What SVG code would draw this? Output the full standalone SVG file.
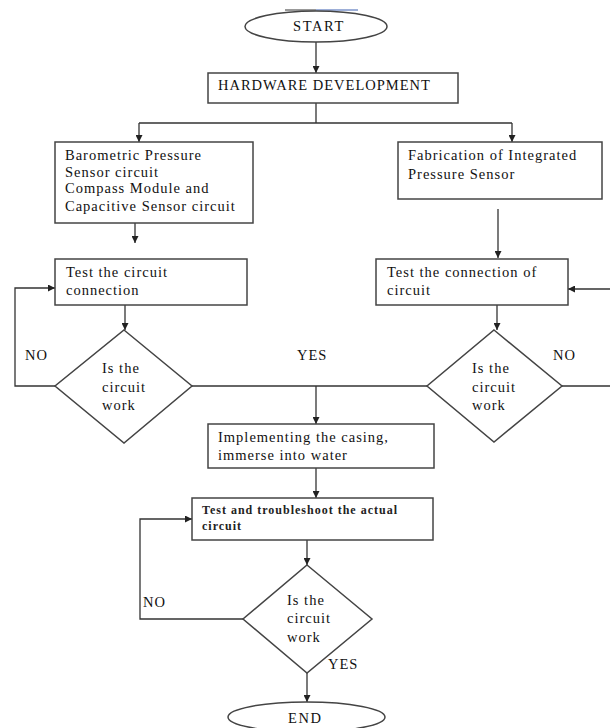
<svg xmlns="http://www.w3.org/2000/svg" width="610" height="728" viewBox="0 0 610 728">
<style>
.box{fill:#fff;stroke:#444;stroke-width:1.5}
.ln{fill:none;stroke:#333;stroke-width:1.3}
text{font-family:"Liberation Serif","Times New Roman",serif;font-size:14.5px;letter-spacing:1px;fill:#111}
.sm{font-size:12px;font-weight:bold;letter-spacing:1px;fill:#222}
</style>
<defs>
<marker id="ah" viewBox="0 0 10 10" refX="10" refY="5" markerWidth="7" markerHeight="7" markerUnits="userSpaceOnUse" orient="auto">
<path d="M0,0 L10,5 L0,10 z" fill="#222"/>
</marker>
</defs>
<line x1="285" y1="10" x2="316" y2="10" stroke="#333" stroke-width="1"/>
<line x1="316" y1="10" x2="358" y2="10" stroke="#3a5fb0" stroke-width="1"/>
<g id="connectors">
<path class="ln" d="M316,42 V73" marker-end="url(#ah)"/>
<path class="ln" d="M316,103 V123 M139,123 H512"/>
<path class="ln" d="M139,123 V142" marker-end="url(#ah)"/>
<path class="ln" d="M512,123 V142" marker-end="url(#ah)"/>
<path class="ln" d="M135,223 V243" marker-end="url(#ah)"/>
<path class="ln" d="M498,209 V258" marker-end="url(#ah)"/>
<path class="ln" d="M125,305 V330" marker-end="url(#ah)"/>
<path class="ln" d="M497,305 V330" marker-end="url(#ah)"/>
<path class="ln" d="M55,386 H15 V288 H55" marker-end="url(#ah)"/>
<path class="ln" d="M562,386 H613 V289 H568" marker-end="url(#ah)"/>
<path class="ln" d="M192,386 H427"/>
<path class="ln" d="M316,386 V424" marker-end="url(#ah)"/>
<path class="ln" d="M316,468 V498" marker-end="url(#ah)"/>
<path class="ln" d="M307,540 V565" marker-end="url(#ah)"/>
<path class="ln" d="M243,619 H140 V519 H192" marker-end="url(#ah)"/>
<path class="ln" d="M307,673 V702" marker-end="url(#ah)"/>
<text x="25" y="360">NO</text>
<text x="297" y="360">YES</text>
<text x="553" y="360">NO</text>
<text x="143" y="607">NO</text>
<text x="328" y="669">YES</text>
</g>
<g id="start">
<ellipse class="box" cx="316" cy="26.5" rx="71" ry="15.5"/>
<text x="293" y="31" style="letter-spacing:1.6px">START</text>
</g>
<g id="hardware">
<rect class="box" x="208" y="73" width="250" height="30"/>
<text x="218" y="90">HARDWARE DEVELOPMENT</text>
</g>
<g id="sensors">
<rect class="box" x="55" y="142" width="198" height="81"/>
<text x="65" y="160">Barometric Pressure</text>
<text x="65" y="177">Sensor circuit</text>
<text x="65" y="193">Compass Module and</text>
<text x="65" y="211">Capacitive Sensor circuit</text>
</g>
<g id="fabrication">
<rect class="box" x="398" y="142" width="204" height="57"/>
<text x="408" y="160">Fabrication of Integrated</text>
<text x="408" y="179">Pressure Sensor</text>
</g>
<g id="test-left">
<rect class="box" x="55" y="259" width="192" height="46"/>
<text x="66" y="277">Test the circuit</text>
<text x="66" y="295">connection</text>
</g>
<g id="test-right">
<rect class="box" x="376" y="259" width="192" height="46"/>
<text x="387" y="277">Test the connection of</text>
<text x="387" y="295">circuit</text>
</g>
<g id="decision-left">
<polygon class="box" points="124,330 192,386 124,443 55,386"/>
<text x="102" y="373">Is the</text>
<text x="102" y="392">circuit</text>
<text x="102" y="410">work</text>
</g>
<g id="decision-right">
<polygon class="box" points="494,330 562,386 494,442 427,386"/>
<text x="472" y="373">Is the</text>
<text x="472" y="392">circuit</text>
<text x="472" y="410">work</text>
</g>
<g id="casing">
<rect class="box" x="208" y="424" width="226" height="44"/>
<text x="218" y="442">Implementing the casing,</text>
<text x="218" y="460">immerse into water</text>
</g>
<g id="troubleshoot">
<rect class="box" x="192" y="498" width="241" height="42"/>
<text class="sm" x="202" y="514">Test and troubleshoot the actual</text>
<text class="sm" x="202" y="530">circuit</text>
</g>
<g id="decision-final">
<polygon class="box" points="307,565 372,619 307,673 243,619"/>
<text x="287" y="605">Is the</text>
<text x="287" y="623">circuit</text>
<text x="287" y="642">work</text>
</g>
<g id="end">
<ellipse class="box" cx="306.5" cy="717" rx="78.5" ry="15"/>
<text x="288" y="723" style="letter-spacing:1.6px">END</text>
</g>
</svg>
